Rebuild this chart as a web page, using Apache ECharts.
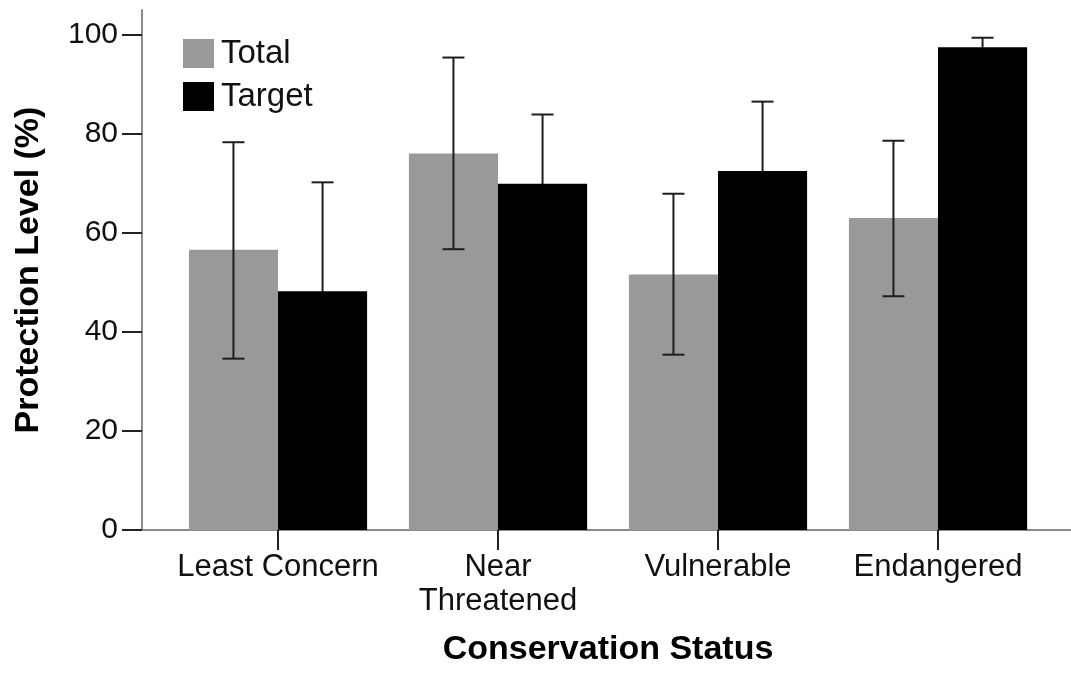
<!DOCTYPE html>
<html>
<head>
<meta charset="utf-8">
<script src="https://cdn.jsdelivr.net/npm/echarts@6/dist/echarts.min.js"></script>
<style>
  html, body { margin: 0; padding: 0; background: #fff; }
  #chart { width: 1071px; height: 675px; }
</style>
</head>
<body>
<div id="chart"></div>
<script>
// Conservation status categories
const categories = ['Least Concern', 'Near\nThreatened', 'Vulnerable', 'Endangered'];

// Mean protection level (%) per group
const totalValues  = [56.6, 76.0, 51.6, 63.0];
const targetValues = [48.2, 69.9, 72.5, 97.5];

// Error bar limits (%)
const totalLow   = [34.6, 56.7, 35.4, 47.2];
const totalHigh  = [78.3, 95.4, 67.9, 78.6];
const targetLow  = [26.2, 55.9, 58.5, 95.6];
const targetHigh = [70.2, 83.9, 86.5, 99.4];

// Y axis tick labels
const yTicks = [0, 20, 40, 60, 80, 100];

const FONT = 'Arial, "Liberation Sans", sans-serif';
const CATEGORY_GAP = 0.19;

function errorData(low, high) {
  return low.map((lo, i) => [i, lo, high[i]]);
}

// Draws a whisker with caps centred on one of the two bars in a category
function makeErrorRenderer(side) {
  return function (params, api) {
    const idx = api.value(0);
    const lo = api.coord([idx, api.value(1)]);
    const hi = api.coord([idx, api.value(2)]);
    const band = api.size([1, 0])[0];
    const barW = band * (1 - CATEGORY_GAP) / 2;
    const x = lo[0] + side * barW / 2;
    const cap = 11;
    const style = { stroke: '#1e1e1e', lineWidth: 2 };
    return {
      type: 'group',
      children: [
        { type: 'line', shape: { x1: x, y1: lo[1], x2: x, y2: hi[1] }, style: style },
        { type: 'line', shape: { x1: x - cap, y1: hi[1], x2: x + cap, y2: hi[1] }, style: style },
        { type: 'line', shape: { x1: x - cap, y1: lo[1], x2: x + cap, y2: lo[1] }, style: style }
      ]
    };
  };
}

const chart = echarts.init(document.getElementById('chart'), null, { renderer: 'canvas' });

chart.setOption({
  animation: false,
  backgroundColor: '#ffffff',
  textStyle: { fontFamily: FONT },
  grid: [
    { left: 168, right: 23, top: 10, bottom: 145 },
    { left: 142, right: 0, top: 10, bottom: 145 }
  ],
  legend: {
    orient: 'vertical',
    left: 183,
    top: 37,
    icon: 'rect',
    itemWidth: 31,
    itemHeight: 29,
    itemGap: 10,
    padding: 0,
    textStyle: { fontSize: 33, color: '#111', lineHeight: 29, padding: [0, 0, 0, 2] },
    data: ['Total', 'Target']
  },
  xAxis: [
    {
      type: 'category',
      gridIndex: 0,
      data: categories,
      name: 'Conservation Status',
      nameLocation: 'middle',
      nameGap: 103,
      nameTextStyle: { fontSize: 34, fontWeight: 'bold', color: '#000', fontFamily: FONT },
      axisLine: { show: false },
      axisTick: { show: true, alignWithLabel: true, length: 20, lineStyle: { color: '#222', width: 2 } },
      axisLabel: { fontSize: 31, color: '#111', margin: 20, lineHeight: 34, interval: 0 },
      splitLine: { show: false }
    },
    {
      // full-width baseline running under the plot
      type: 'value',
      gridIndex: 1,
      axisLine: { show: true, onZero: false, lineStyle: { color: '#8a8a8a', width: 2 } },
      axisTick: { show: false },
      axisLabel: { show: false },
      splitLine: { show: false }
    }
  ],
  yAxis: [
    {
      type: 'value',
      gridIndex: 0,
      min: 0,
      max: 105,
      interval: 20,
      offset: 26,
      name: 'Protection Level (%)',
      nameLocation: 'middle',
      nameGap: 96,
      nameTextStyle: { fontSize: 34, fontWeight: 'bold', color: '#000', fontFamily: FONT },
      axisLine: { show: true, lineStyle: { color: '#8a8a8a', width: 2 } },
      axisTick: { show: true, length: 20, customValues: yTicks, lineStyle: { color: '#222', width: 2 } },
      axisLabel: { fontSize: 30, color: '#111', margin: 24, customValues: yTicks },
      splitLine: { show: false }
    },
    {
      type: 'value',
      gridIndex: 1,
      show: false
    }
  ],
  series: [
    {
      name: 'Total',
      type: 'bar',
      xAxisIndex: 0,
      yAxisIndex: 0,
      z: 2,
      data: totalValues,
      barGap: '0%',
      barCategoryGap: (CATEGORY_GAP * 100) + '%',
      itemStyle: { color: '#999999' }
    },
    {
      name: 'Target',
      type: 'bar',
      xAxisIndex: 0,
      yAxisIndex: 0,
      z: 2,
      data: targetValues,
      barGap: '0%',
      barCategoryGap: (CATEGORY_GAP * 100) + '%',
      itemStyle: { color: '#000000' }
    },
    {
      // whiskers over the grey bars
      type: 'custom',
      xAxisIndex: 0,
      yAxisIndex: 0,
      z: 5,
      data: errorData(totalLow, totalHigh),
      renderItem: makeErrorRenderer(-1),
      encode: { x: 0, y: [1, 2] }
    },
    {
      // whiskers behind the black bars, so only the upper half shows
      type: 'custom',
      xAxisIndex: 0,
      yAxisIndex: 0,
      z: 1,
      data: errorData(targetLow, targetHigh),
      renderItem: makeErrorRenderer(1),
      encode: { x: 0, y: [1, 2] }
    }
  ]
});
</script>
</body>
</html>
